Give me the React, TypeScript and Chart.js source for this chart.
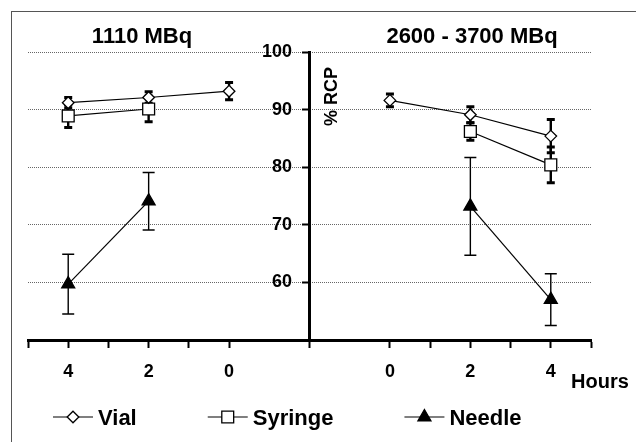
import React, { useEffect, useRef } from 'react';
import { Chart, registerables } from 'chart.js';
import { drawPoint } from 'chart.js/helpers';

Chart.register(...registerables);

// ---------- text ----------
const panelTitles = ['1110 MBq', '2600 - 3700 MBq'];
const yAxisTitle = '% RCP';
const xAxisTitle = 'Hours';
const seriesNames = ['Vial', 'Syringe', 'Needle'];
const yTickValues = [60, 70, 80, 90, 100];
const leftTickHours = [4, 2, 0];
const rightTickHours = [0, 2, 4];

// ---------- data: left panel (1110 MBq) ----------
const leftVialHours = [4, 2, 0];
const leftVialValues = [91.2, 92.1, 93.2];
const leftVialErrors = [0.9, 1.0, 1.5];

const leftSyringeHours = [4, 2];
const leftSyringeValues = [88.9, 90.1];
const leftSyringeErrors = [2.0, 2.2];

const leftNeedleHours = [4, 2];
const leftNeedleValues = [59.7, 74.1];
const leftNeedleErrors = [5.2, 5.0];

// ---------- data: right panel (2600 - 3700 MBq) ----------
const rightVialHours = [0, 2, 4];
const rightVialValues = [91.6, 89.1, 85.4];
const rightVialErrors = [1.1, 1.4, 2.9];

const rightSyringeHours = [2, 4];
const rightSyringeValues = [86.2, 80.4];
const rightSyringeErrors = [1.5, 3.1];

const rightNeedleHours = [2, 4];
const rightNeedleValues = [73.2, 57.0];
const rightNeedleErrors = [8.5, 4.5];

// ---------- layout of the shared axis ----------
const LEFT_ZERO = 5;
const RIGHT_ZERO = 9;
const AXIS_AT = 7;
const X_MAX = 14;
const LABEL_AT = 6.565;
const Y_MIN = 50;
const Y_MAX = 100;

const FONT = '"Liberation Sans", Arial, Helvetica, sans-serif';

const leftX = (h: number) => LEFT_ZERO - h;
const rightX = (h: number) => RIGHT_ZERO + h;
const toPoints = (hs: number[], vs: number[], f: (h: number) => number) =>
  hs.map((h, i) => ({ x: f(h), y: vs[i] }));

const seriesStyle: Record<string, any> = {
  Vial: { pointStyle: 'rectRot', radius: 5.8, bg: '#ffffff', errWidth: 2.4, capHalf: 4, capWidth: 3 },
  Syringe: { pointStyle: 'rect', radius: 8.4, bg: '#ffffff', errWidth: 2.4, capHalf: 4, capWidth: 3 },
  Needle: { pointStyle: 'triangle', radius: 7.5, bg: '#000000', errWidth: 1.4, capHalf: 6, capWidth: 1.5 },
};

const seriesDefs = [
  { name: 'Vial', pts: toPoints(leftVialHours, leftVialValues, leftX), err: leftVialErrors },
  { name: 'Vial', pts: toPoints(rightVialHours, rightVialValues, rightX), err: rightVialErrors },
  { name: 'Syringe', pts: toPoints(leftSyringeHours, leftSyringeValues, leftX), err: leftSyringeErrors },
  { name: 'Syringe', pts: toPoints(rightSyringeHours, rightSyringeValues, rightX), err: rightSyringeErrors },
  { name: 'Needle', pts: toPoints(leftNeedleHours, leftNeedleValues, leftX), err: leftNeedleErrors },
  { name: 'Needle', pts: toPoints(rightNeedleHours, rightNeedleValues, rightX), err: rightNeedleErrors },
];

const xTickLabel = (u: number) => {
  if (u < AXIS_AT) {
    const h = LEFT_ZERO - u;
    return leftTickHours.includes(h) ? String(h) : '';
  }
  const h = u - RIGHT_ZERO;
  return rightTickHours.includes(h) ? String(h) : '';
};

const frameAndErrorBars = {
  id: 'frameAndErrorBars',
  beforeDraw(chart: any) {
    const ctx = chart.ctx;
    ctx.save();
    ctx.fillStyle = '#ffffff';
    ctx.fillRect(0, 0, chart.width, chart.height);
    ctx.strokeStyle = '#555555';
    ctx.lineWidth = 1;
    ctx.strokeRect(11.5, 11.5, chart.width + 20, chart.height + 20);
    ctx.restore();
  },
  beforeDatasetsDraw(chart: any) {
    const ctx = chart.ctx;
    const yScale = chart.scales.y;
    ctx.save();
    ctx.strokeStyle = '#000000';
    seriesDefs.forEach((def, i) => {
      const st = seriesStyle[def.name];
      const meta = chart.getDatasetMeta(i);
      def.pts.forEach((p, j) => {
        const el = meta.data[j];
        if (!el) return;
        const x = el.x;
        const yTop = yScale.getPixelForValue(p.y + def.err[j]);
        const yBot = yScale.getPixelForValue(p.y - def.err[j]);
        ctx.lineWidth = st.errWidth;
        ctx.beginPath();
        ctx.moveTo(x, yTop);
        ctx.lineTo(x, yBot);
        ctx.stroke();
        ctx.lineWidth = st.capWidth;
        ctx.beginPath();
        ctx.moveTo(x - st.capHalf, yTop);
        ctx.lineTo(x + st.capHalf, yTop);
        ctx.moveTo(x - st.capHalf, yBot);
        ctx.lineTo(x + st.capHalf, yBot);
        ctx.stroke();
      });
    });
    ctx.restore();
  },
  afterDraw(chart: any) {
    const ctx = chart.ctx;
    ctx.save();
    ctx.fillStyle = '#000000';
    // panel titles
    ctx.font = `bold 22px ${FONT}`;
    ctx.textAlign = 'center';
    ctx.textBaseline = 'alphabetic';
    ctx.fillText(panelTitles[0], 142, 43);
    ctx.fillText(panelTitles[1], 472, 43);
    // x-axis title
    ctx.font = `bold 20px ${FONT}`;
    ctx.textAlign = 'left';
    ctx.fillText(xAxisTitle, 571, 388);
    // y-axis title (rotated)
    ctx.save();
    ctx.translate(337, 96.5);
    ctx.rotate(-Math.PI / 2);
    ctx.font = `bold 18px ${FONT}`;
    ctx.textAlign = 'center';
    ctx.fillText(yAxisTitle, 0, 0);
    ctx.restore();
    // legend
    let x = 53;
    const ly = 417;
    seriesNames.forEach((name) => {
      const st = seriesStyle[name];
      ctx.strokeStyle = '#000000';
      ctx.lineWidth = 1.2;
      ctx.beginPath();
      ctx.moveTo(x, ly);
      ctx.lineTo(x + 40, ly);
      ctx.stroke();
      ctx.fillStyle = st.bg;
      ctx.strokeStyle = '#000000';
      ctx.lineWidth = 1.3;
      drawPoint(ctx, { pointStyle: st.pointStyle, radius: st.radius, borderWidth: 1.3, rotation: 0 } as any, x + 20, ly);
      ctx.fillStyle = '#000000';
      ctx.font = `bold 22px ${FONT}`;
      ctx.textAlign = 'left';
      ctx.textBaseline = 'alphabetic';
      ctx.fillText(name, x + 45, ly + 8);
      x = x + 45 + ctx.measureText(name).width + 71;
    });
    ctx.restore();
  },
};

export default function App() {
  const ref = useRef<HTMLCanvasElement | null>(null);

  useEffect(() => {
    if (!ref.current) return;
    const tickFont = { family: FONT, size: 18, weight: 'bold' as const };
    const chart = new Chart(ref.current, {
      type: 'scatter',
      data: {
        datasets: seriesDefs.map((def) => {
          const st = seriesStyle[def.name];
          return {
            label: def.name,
            data: def.pts,
            showLine: true,
            borderColor: '#000000',
            borderWidth: 1.2,
            pointStyle: st.pointStyle,
            pointRadius: st.radius,
            pointHoverRadius: st.radius,
            pointBackgroundColor: st.bg,
            pointBorderColor: '#000000',
            pointBorderWidth: 1.3,
            xAxisID: 'x',
            yAxisID: 'y',
            clip: false as any,
          };
        }),
      },
      options: {
        responsive: false,
        animation: false,
        devicePixelRatio: 1,
        events: [],
        layout: { padding: { left: 28, right: 45, top: 52, bottom: 102 } },
        plugins: {
          legend: { display: false },
          tooltip: { enabled: false },
          title: { display: false },
        },
        scales: {
          x: {
            type: 'linear',
            position: { y: Y_MIN } as any,
            min: 0,
            max: X_MAX,
            ticks: {
              stepSize: 1,
              autoSkip: false,
              maxRotation: 0,
              minRotation: 0,
              padding: 15,
              color: '#000000',
              font: tickFont,
              callback: (v: any) => xTickLabel(Number(v)),
            },
            grid: {
              drawOnChartArea: false,
              drawTicks: true,
              tickLength: 6,
              tickWidth: 2,
              tickColor: (c: any) =>
                c.tick && (c.tick.value === AXIS_AT - 1 || c.tick.value === AXIS_AT + 1) ? 'rgba(0,0,0,0)' : '#000000',
            },
            border: { display: true, color: '#000000', width: 3 },
          },
          y: {
            type: 'linear',
            position: { x: AXIS_AT } as any,
            min: Y_MIN,
            max: Y_MAX,
            ticks: { display: false, stepSize: 10 },
            grid: {
              color: (c: any) => (c.tick && yTickValues.includes(c.tick.value) ? '#666666' : 'rgba(0,0,0,0)'),
              lineWidth: 1,
              drawTicks: true,
              tickLength: 6,
              tickWidth: 2,
              tickColor: '#000000',
            },
            border: { display: true, color: '#000000', width: 3, dash: [1, 1] },
          },
          y2: {
            type: 'linear',
            position: { x: LABEL_AT } as any,
            min: Y_MIN,
            max: Y_MAX,
            ticks: {
              stepSize: 10,
              color: '#000000',
              font: tickFont,
              callback: (v: any) => (yTickValues.includes(Number(v)) ? String(v) : ''),
            },
            grid: { display: false, drawTicks: false },
            border: { display: false },
          },
        },
      },
      plugins: [frameAndErrorBars],
    });
    return () => chart.destroy();
  }, []);

  return (
    <div style={{ position: 'absolute', left: 0, top: 0, width: 636, height: 442 }}>
      <canvas ref={ref} width={636} height={442} style={{ display: 'block' }} />
    </div>
  );
}
